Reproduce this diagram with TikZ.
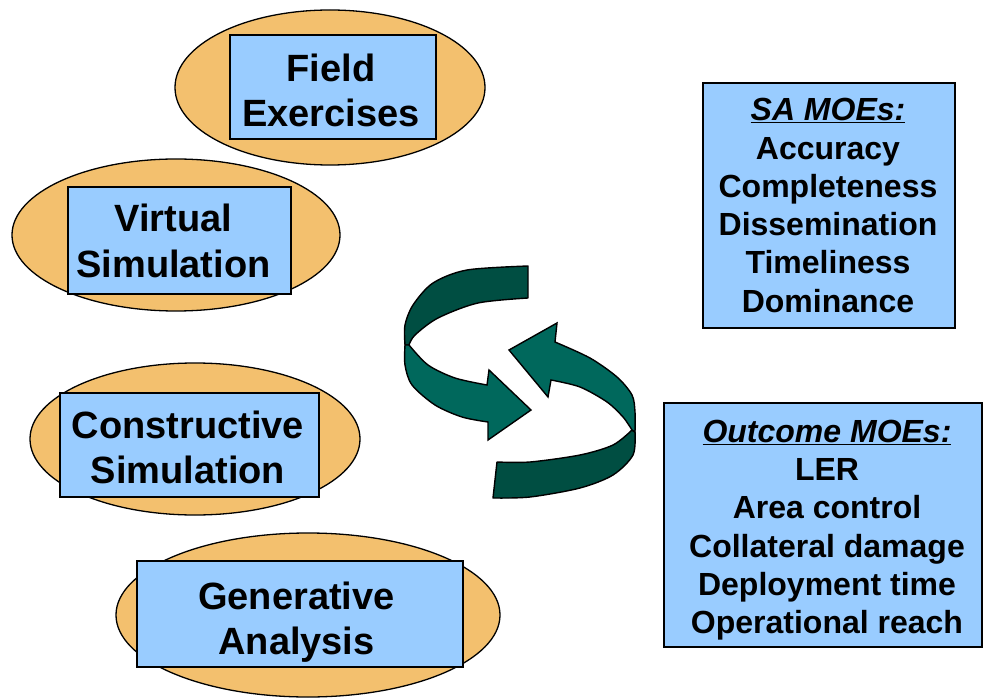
\documentclass[tikz,border=0pt]{standalone}
\usepackage{fontspec}
\setmainfont{Liberation Sans}
\usetikzlibrary{shapes.geometric}
\definecolor{ellfill}{RGB}{243,192,110}
\definecolor{boxfill}{RGB}{153,204,255}
\definecolor{tealfront}{RGB}{0,104,92}
\definecolor{tealback}{RGB}{0,78,66}
\tikzset{
  oval/.style={ellipse, draw=black, line width=1.3pt, fill=ellfill, inner sep=0pt},
  bigbox/.style={rectangle, draw=black, line width=1.6pt, fill=boxfill, inner sep=0pt},
  bigtext/.style={align=center, inner sep=0pt, font=\fontsize{38}{45.5}\selectfont\bfseries},
  moebox/.style={rectangle, draw=black, line width=1.3pt, fill=boxfill, inner sep=0pt},
  moetext/.style={align=center, inner sep=0pt, font=\fontsize{32}{38.3}\selectfont\bfseries},
  ribbonback/.style={fill=tealback, draw=black, line width=1.4pt, line join=round},
  ribbonfront/.style={fill=tealfront, draw=black, line width=1.4pt, line join=miter},
}
\begin{document}
\begin{tikzpicture}[x=1pt,y=-1pt]
\useasboundingbox (0,0) rectangle (984,700);

% ellipses
\node[oval, minimum width=310pt, minimum height=155pt] (e1) at (330,87.5) {};
\node[oval, minimum width=328pt, minimum height=152pt] (e2) at (176,235) {};
\node[oval, minimum width=330pt, minimum height=152pt] (e3) at (195,439) {};
\node[oval, minimum width=384pt, minimum height=164pt] (e4) at (308,615) {};

% boxes
\node[bigbox, minimum width=206pt, minimum height=104pt] (b1) at (333,87) {};
\node[bigtext] (b1t) at (331,90.5) {Field\\Exercises};
\node[bigbox, minimum width=223pt, minimum height=107pt] (b2) at (179.5,240.5) {};
\node[bigtext] (b2t) at (173.5,241) {Virtual\\Simulation};
\node[bigbox, minimum width=259pt, minimum height=104pt] (b3) at (189.5,445) {};
\node[bigtext] (b3t) at (188,447.5) {Constructive\\Simulation};
\node[bigbox, minimum width=326pt, minimum height=106pt] (b4) at (300,614) {};
\node[bigtext] (b4t) at (296.5,622) {Generative\\Analysis};

% MOE boxes
\node[moebox, minimum width=252pt, minimum height=245pt] (sa) at (829,205.5) {};
\node[moetext] (sat) at (828,205.5)
  {\underline{\textit{SA MOEs:}}\\Accuracy\\Completeness\\Dissemination\\Timeliness\\Dominance};
\node[moebox, minimum width=318pt, minimum height=244pt] (out) at (823,525) {};
\node[moetext] (outt) at (827,530)
  {\underline{\textit{Outcome MOEs:}}\\LER\\Area control\\Collateral damage\\Deployment time\\Operational reach};

% upper arrow: back band
\path[ribbonback] (528,266)
  -- plot[smooth] coordinates {(528,266) (467,270) (433,283) (413,305) (405,325) (405,345)}
  -- (409,345)
  -- plot[smooth] coordinates {(409,345) (415,335) (438,318) (478,303) (528,298)}
  -- cycle;
% upper arrow: front face with head
\path[ribbonfront] (409,345)
  -- plot[smooth] coordinates {(409,345) (428,365) (455,378) (487,385)}
  -- (489,370) -- (531,410) -- (488,440) -- (488,422)
  -- plot[smooth] coordinates {(488,422) (462,417) (435,405) (412,385) (405,365) (405,345)}
  -- cycle;

% lower arrow: back band
\path[ribbonback] (497,462)
  -- plot[smooth] coordinates {(497,462) (530,462) (580,455) (613,445) (632,430)}
  -- (635,432)
  -- plot[smooth] coordinates {(635,432) (633,455) (613,475) (580,488) (530,497) (493,498)}
  -- cycle;
% lower arrow: front face with head
\path[ribbonfront] (632,430)
  -- plot[smooth] coordinates {(632,430) (623,417) (607,402) (580,387) (551,380)}
  -- (548,397) -- (509,350) -- (557,323) -- (555,342)
  -- plot[smooth] coordinates {(555,342) (590,358) (617,377) (632,395) (635,412) (635,432)}
  -- cycle;
\end{tikzpicture}
\end{document}
